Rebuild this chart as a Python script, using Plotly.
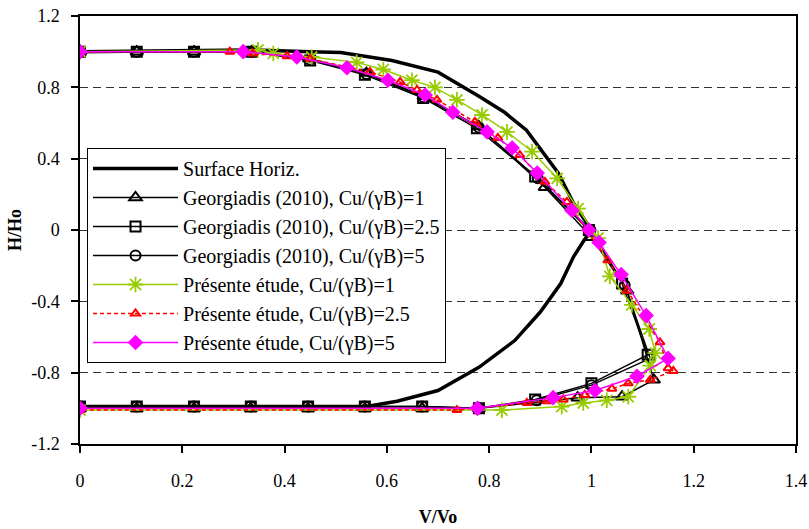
import plotly.graph_objects as go

# Surface horizontale (thick black)
sh_v = [0, 0.33, 0.45, 0.51, 0.61, 0.70, 0.78, 0.83, 0.873, 0.906, 0.935, 0.965, 1.0,
        0.985, 0.965, 0.94, 0.90, 0.85, 0.78, 0.70, 0.62, 0.56, 0.0]
sh_h = [1.0, 1.01, 1.0, 0.995, 0.95, 0.885, 0.75, 0.66, 0.56, 0.43, 0.32, 0.15, 0.0,
        -0.06, -0.15, -0.3, -0.46, -0.62, -0.77, -0.9, -0.96, -0.99, -0.99]

# Georgiadis (2010)
g1_v = [0, 0.111, 0.223, 0.335, 0.448, 0.56, 0.672, 0.78, 0.909, 1.0, 1.07, 1.122,
        1.06, 0.973, 0.78, 0.669, 0.557, 0.446, 0.334, 0.223, 0.111, 0]
g1_h = [1.0, 1.0, 1.0, 1.0, 0.96, 0.88, 0.75, 0.58, 0.24, -0.04, -0.34, -0.84,
        -0.935, -0.94, -1.0, -1.0, -1.0, -1.0, -1.0, -1.0, -1.0, -1.0]

g25_v = [0, 0.111, 0.223, 0.335, 0.45, 0.557, 0.671, 0.776, 0.89, 0.995, 1.06, 1.11,
         1.0, 0.89, 0.78, 0.669, 0.557, 0.446, 0.334, 0.223, 0.111, 0]
g25_h = [1.0, 1.0, 1.0, 1.0, 0.95, 0.87, 0.74, 0.57, 0.30, 0.0, -0.30, -0.70,
         -0.86, -0.95, -1.0, -0.99, -0.99, -0.99, -0.99, -0.99, -0.99, -0.99]

g5_v = [0, 0.111, 0.223, 0.335, 0.45, 0.56, 0.672, 0.78, 0.895, 0.998, 1.065, 1.115,
        1.0, 0.893, 0.78, 0.669, 0.557, 0.446, 0.334, 0.223, 0.111, 0]
g5_h = [1.0, 1.0, 1.0, 1.0, 0.955, 0.875, 0.745, 0.575, 0.29, 0.0, -0.31, -0.72,
        -0.87, -0.955, -1.0, -0.99, -0.99, -0.99, -0.99, -0.99, -0.99, -0.99]

# Présente étude
p1_v = [0, 0.348, 0.378, 0.453, 0.541, 0.593, 0.649, 0.694, 0.737, 0.786, 0.835,
        0.884, 0.933, 0.974, 1.013, 1.036, 1.079, 1.113, 1.125, 1.115, 1.072, 1.03,
        0.984, 0.942, 0.825, 0]
p1_h = [1.0, 1.01, 0.99, 0.97, 0.94, 0.90, 0.84, 0.80, 0.73, 0.645, 0.55,
        0.44, 0.29, 0.12, -0.045, -0.26, -0.42, -0.555, -0.69, -0.76, -0.935, -0.955,
        -0.97, -0.99, -1.01, -1.01]

p25_v = [0, 0.293, 0.338, 0.405, 0.45, 0.567, 0.626, 0.659, 0.698, 0.772, 0.817,
         0.86, 0.909, 0.952, 1.032, 1.07, 1.134, 1.15, 1.16, 1.115, 1.072, 1.04,
         0.987, 0.945, 0.913, 0.874, 0.737, 0]
p25_h = [1.0, 1.0, 0.99, 0.975, 0.96, 0.886, 0.83, 0.785, 0.73, 0.606, 0.516,
         0.42, 0.27, 0.157, -0.17, -0.34, -0.63, -0.775, -0.79, -0.84, -0.86, -0.89,
         -0.925, -0.95, -0.96, -0.97, -1.01, -1.01]

p5_v = [0, 0.319, 0.424, 0.522, 0.602, 0.675, 0.729, 0.796, 0.845, 0.894, 0.962,
        0.995, 1.015, 1.058, 1.107, 1.15, 1.089, 1.007, 0.925, 0.777, 0]
p5_h = [1.0, 1.0, 0.97, 0.91, 0.84, 0.757, 0.66, 0.55, 0.46, 0.32, 0.11,
        0.0, -0.07, -0.25, -0.48, -0.72, -0.82, -0.9, -0.94, -1.0, -1.0]

x_ticks = [0, 0.2, 0.4, 0.6, 0.8, 1.0, 1.2, 1.4]
x_labels = ["0", "0.2", "0.4", "0.6", "0.8", "1", "1.2", "1.4"]
y_ticks = [-1.2, -0.8, -0.4, 0, 0.4, 0.8, 1.2]
y_labels = ["-1.2", "-0.8", "-0.4", "0", "0.4", "0.8", "1.2"]

SERIF = "Liberation Serif, Times New Roman, serif"
GREEN = "#99CC00"

fig = go.Figure()


def add(v, h, name, line, marker=None):
    fig.add_trace(go.Scatter(
        x=v, y=h, name=name,
        mode="lines+markers" if marker else "lines",
        line=line, marker=marker or {},
    ))


add(sh_v, sh_h, "Surface Horiz.", dict(color="black", width=3.5))
add(g1_v, g1_h, "Georgiadis (2010), Cu/(γB)=1", dict(color="black", width=1.5),
    dict(symbol="triangle-up-open", size=11, color="black", line=dict(width=2)))
add(g25_v, g25_h, "Georgiadis (2010), Cu/(γB)=2.5", dict(color="black", width=1.5),
    dict(symbol="square-open", size=10, color="black", line=dict(width=2)))
add(g5_v, g5_h, "Georgiadis (2010), Cu/(γB)=5", dict(color="black", width=1.5),
    dict(symbol="circle-open", size=10, color="black", line=dict(width=2)))
add(p1_v, p1_h, "Présente étude, Cu/(γB)=1", dict(color=GREEN, width=1.5),
    dict(symbol="asterisk-open", size=13, color=GREEN, line=dict(width=1.8, color=GREEN)))
add(p25_v, p25_h, "Présente étude, Cu/(γB)=2.5", dict(color="red", width=1.5, dash="4px,3px"),
    dict(symbol="triangle-up-open", size=8, color="red", line=dict(width=2)))
add(p5_v, p5_h, "Présente étude, Cu/(γB)=5", dict(color="#FF00FF", width=1.5),
    dict(symbol="diamond", size=12, color="#FF00FF"))

fig.update_layout(
    width=809, height=529,
    margin=dict(l=80, r=13, t=16, b=85),
    paper_bgcolor="white", plot_bgcolor="white",
    font=dict(family=SERIF, size=18, color="black"),
    showlegend=True,
    legend=dict(
        x=0.0098, y=0.6916, xanchor="left", yanchor="top",
        bgcolor="white", bordercolor="black", borderwidth=1,
        font=dict(family=SERIF, size=20, color="black"),
        itemwidth=85,
    ),
    xaxis=dict(
        range=[0, 1.4], tickvals=x_ticks, ticktext=x_labels,
        tickfont=dict(family=SERIF, size=18),
        showgrid=False, zeroline=False, automargin=False,
        showline=True, linecolor="black", linewidth=1.5, mirror=True,
        ticks="outside", ticklen=7, tickcolor="black", tickwidth=1.5,
        ticklabelstandoff=13,
        title=dict(text="<b>V/Vo</b>", font=dict(family=SERIF, size=18), standoff=20),
    ),
    yaxis=dict(
        range=[-1.2, 1.2], tickvals=y_ticks, ticktext=y_labels,
        tickfont=dict(family=SERIF, size=18),
        showgrid=True, gridcolor="#333333", gridwidth=1, griddash="8px,5px",
        zeroline=False, automargin=False,
        showline=True, linecolor="black", linewidth=1.5, mirror=True,
        ticks="outside", ticklen=7, tickcolor="black", tickwidth=1.5,
        ticklabelstandoff=8,
        title=dict(text="<b>H/Ho</b>", font=dict(family=SERIF, size=18), standoff=5),
    ),
)

# drop the page's default body margin so the 809x529 figure fills the window
fig.write_html("out.html", config={"displayModeBar": False},
               post_script="document.body.style.margin = '0';")
